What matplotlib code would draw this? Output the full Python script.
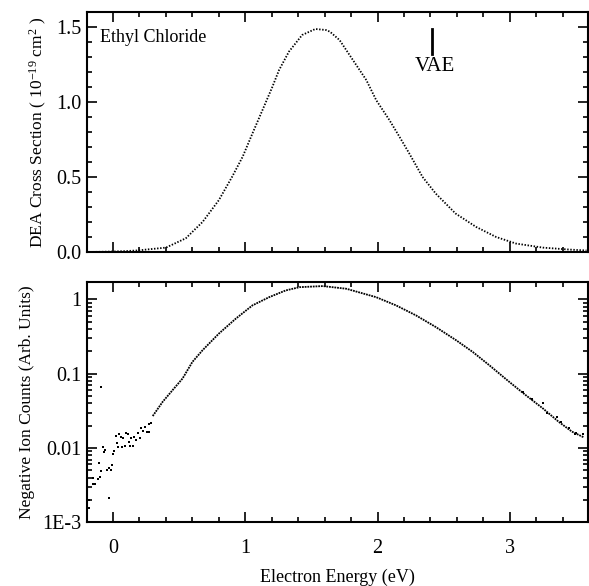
import numpy as np
import matplotlib
matplotlib.use("Agg")
import matplotlib.pyplot as plt
from matplotlib.ticker import MultipleLocator, LogLocator, NullFormatter

plt.rcParams['font.family'] = ['Liberation Serif', 'DejaVu Serif']
plt.rcParams['mathtext.fontset'] = 'custom'
plt.rcParams['mathtext.rm'] = 'Liberation Serif'
plt.rcParams['mathtext.it'] = 'Liberation Serif:italic'

# top panel: DEA cross section (1e-19 cm^2)
top_x = [-0.2, -0.1, 0.0, 0.1, 0.2, 0.25, 0.40, 0.55, 0.677, 0.80, 0.90, 0.98, 1.054, 1.13,
         1.205, 1.255, 1.33, 1.43, 1.53, 1.61, 1.64, 1.713, 1.814, 1.915, 1.99, 2.09, 2.166,
         2.24, 2.34, 2.44, 2.59, 2.745, 2.896, 3.047, 3.25, 3.45, 3.58]
top_y = [0.002, 0.003, 0.005, 0.008, 0.013, 0.018, 0.031, 0.093, 0.202, 0.347, 0.502, 0.636,
         0.791, 0.947, 1.102, 1.213, 1.336, 1.447, 1.487, 1.48, 1.469, 1.413, 1.28, 1.147, 1.013,
         0.88, 0.769, 0.658, 0.502, 0.391, 0.258, 0.169, 0.102, 0.058, 0.031, 0.018, 0.012]

# bottom panel: negative ion counts, smooth part of the curve
bot_x = [0.30, 0.375, 0.45, 0.526, 0.60, 0.677, 0.80, 0.928, 1.054, 1.18, 1.306, 1.41, 1.587,
         1.764, 1.99, 2.14, 2.29, 2.44, 2.594, 2.72, 2.845, 2.996, 3.12, 3.25, 3.37, 3.47, 3.56]
bot_y = [0.0269, 0.0418, 0.060, 0.0863, 0.144, 0.207, 0.346, 0.55, 0.83, 1.07, 1.32, 1.46, 1.51,
         1.39, 1.07, 0.83, 0.61, 0.425, 0.282, 0.196, 0.130, 0.0776, 0.0515, 0.0341, 0.0225,
         0.0166, 0.0139]

# noisy points near threshold
low_x = [-0.179, -0.18, -0.153, -0.136, -0.149, -0.116, -0.098, -0.108, -0.088, -0.078, -0.058,
         -0.068, -0.048, -0.033, -0.018, -0.008, -0.028, 0.002, 0.01, 0.028, 0.038, 0.023, 0.048,
         0.06, 0.068, 0.078, 0.093, 0.098, 0.11, 0.118, 0.128, 0.149, 0.136, 0.161, 0.174, 0.186,
         0.204, 0.211, 0.224, 0.244, 0.254, 0.269, 0.274, 0.289, -0.09]
low_y = [0.00155, 0.0020, 0.00326, 0.00326, 0.00392, 0.0038, 0.00412, 0.00635, 0.00496, 0.0102,
         0.0094, 0.0087, 0.0051, 0.0053, 0.0050, 0.0059, 0.00211, 0.0083, 0.0090, 0.01156, 0.0104,
         0.0146, 0.0154, 0.0139, 0.0104, 0.0135, 0.0106, 0.0157, 0.0152, 0.0122, 0.0107, 0.0107,
         0.0135, 0.0139, 0.0129, 0.0157, 0.0135, 0.0184, 0.0170, 0.0194, 0.0165, 0.0210, 0.0162,
         0.0218, 0.0665]

# noisy points in the high-energy tail
tail_x = [3.097, 3.17, 3.25, 3.285, 3.36, 3.386, 3.45, 3.49, 3.504, 3.55]
tail_y = [0.057, 0.045, 0.0398, 0.0297, 0.0263, 0.0226, 0.0184, 0.0154, 0.0161, 0.0154]

vae = 2.41

fig = plt.figure(figsize=(5.89, 5.86), dpi=100)
ax1 = fig.add_axes([0.147, 0.5695, 0.851, 0.41])
ax2 = fig.add_axes([0.147, 0.1087, 0.851, 0.4106])


def style(ax):
    for s in ax.spines.values():
        s.set_linewidth(1.5)
    ax.tick_params(which='both', direction='in', top=True, right=True, width=1.2,
                   labelsize=14.5)
    ax.tick_params(which='major', length=7)
    ax.tick_params(which='minor', length=3.5)
    ax.set_xlim(-0.2, 3.59)
    ax.xaxis.set_major_locator(MultipleLocator(1))
    ax.xaxis.set_minor_locator(MultipleLocator(0.2))


# --- top panel ---
style(ax1)
ax1.plot(top_x, top_y, color='black', ls=(0, (0.8, 0.9)), lw=1.3)
ax1.set_ylim(0, 1.6)
ax1.yaxis.set_major_locator(MultipleLocator(0.5))
ax1.yaxis.set_minor_locator(MultipleLocator(0.1))
ax1.yaxis.set_major_formatter(plt.FormatStrFormatter('%.1f'))
ax1.tick_params(axis='x', labelbottom=False)
ax1.tick_params(axis='y', pad=4)
ax1.set_ylabel('DEA Cross Section ( 10$^{-19}$ cm$^{2}$ )', fontsize=12.5, labelpad=5)
ax1.text(-0.1, 1.43, 'Ethyl Chloride', fontsize=13, va='center', ha='left')
ax1.plot([vae, vae], [1.32, 1.49], color='black', lw=2)
ax1.text(vae + 0.02, 1.235, 'VAE', fontsize=15, ha='center', va='center')

# --- bottom panel ---
style(ax2)
ax2.set_yscale('log')
ax2.plot(bot_x, bot_y, color='black', ls=(0, (1.0, 0.5)), lw=1.3)
ax2.scatter(low_x, low_y, s=3, color='black', marker='s', linewidths=0)
ax2.scatter(tail_x, tail_y, s=3, color='black', marker='s', linewidths=0)
ax2.set_ylim(1e-3, 1.73)
ax2.yaxis.set_major_locator(LogLocator(base=10, numticks=10))
ax2.yaxis.set_minor_locator(LogLocator(base=10, subs=np.arange(2, 10), numticks=20))
ax2.yaxis.set_minor_formatter(NullFormatter())
ax2.set_yticks([1e-3, 1e-2, 1e-1, 1], ['1E-3', '0.01', '0.1', '1'])
ax2.tick_params(axis='y', pad=4)
ax2.tick_params(axis='x', pad=12)
ax2.set_ylabel('Negative Ion Counts (Arb. Units)', fontsize=12.5, labelpad=5)
ax2.set_xlabel('Electron Energy (eV)', fontsize=13, labelpad=8)

fig.savefig('out.png', dpi=100)
